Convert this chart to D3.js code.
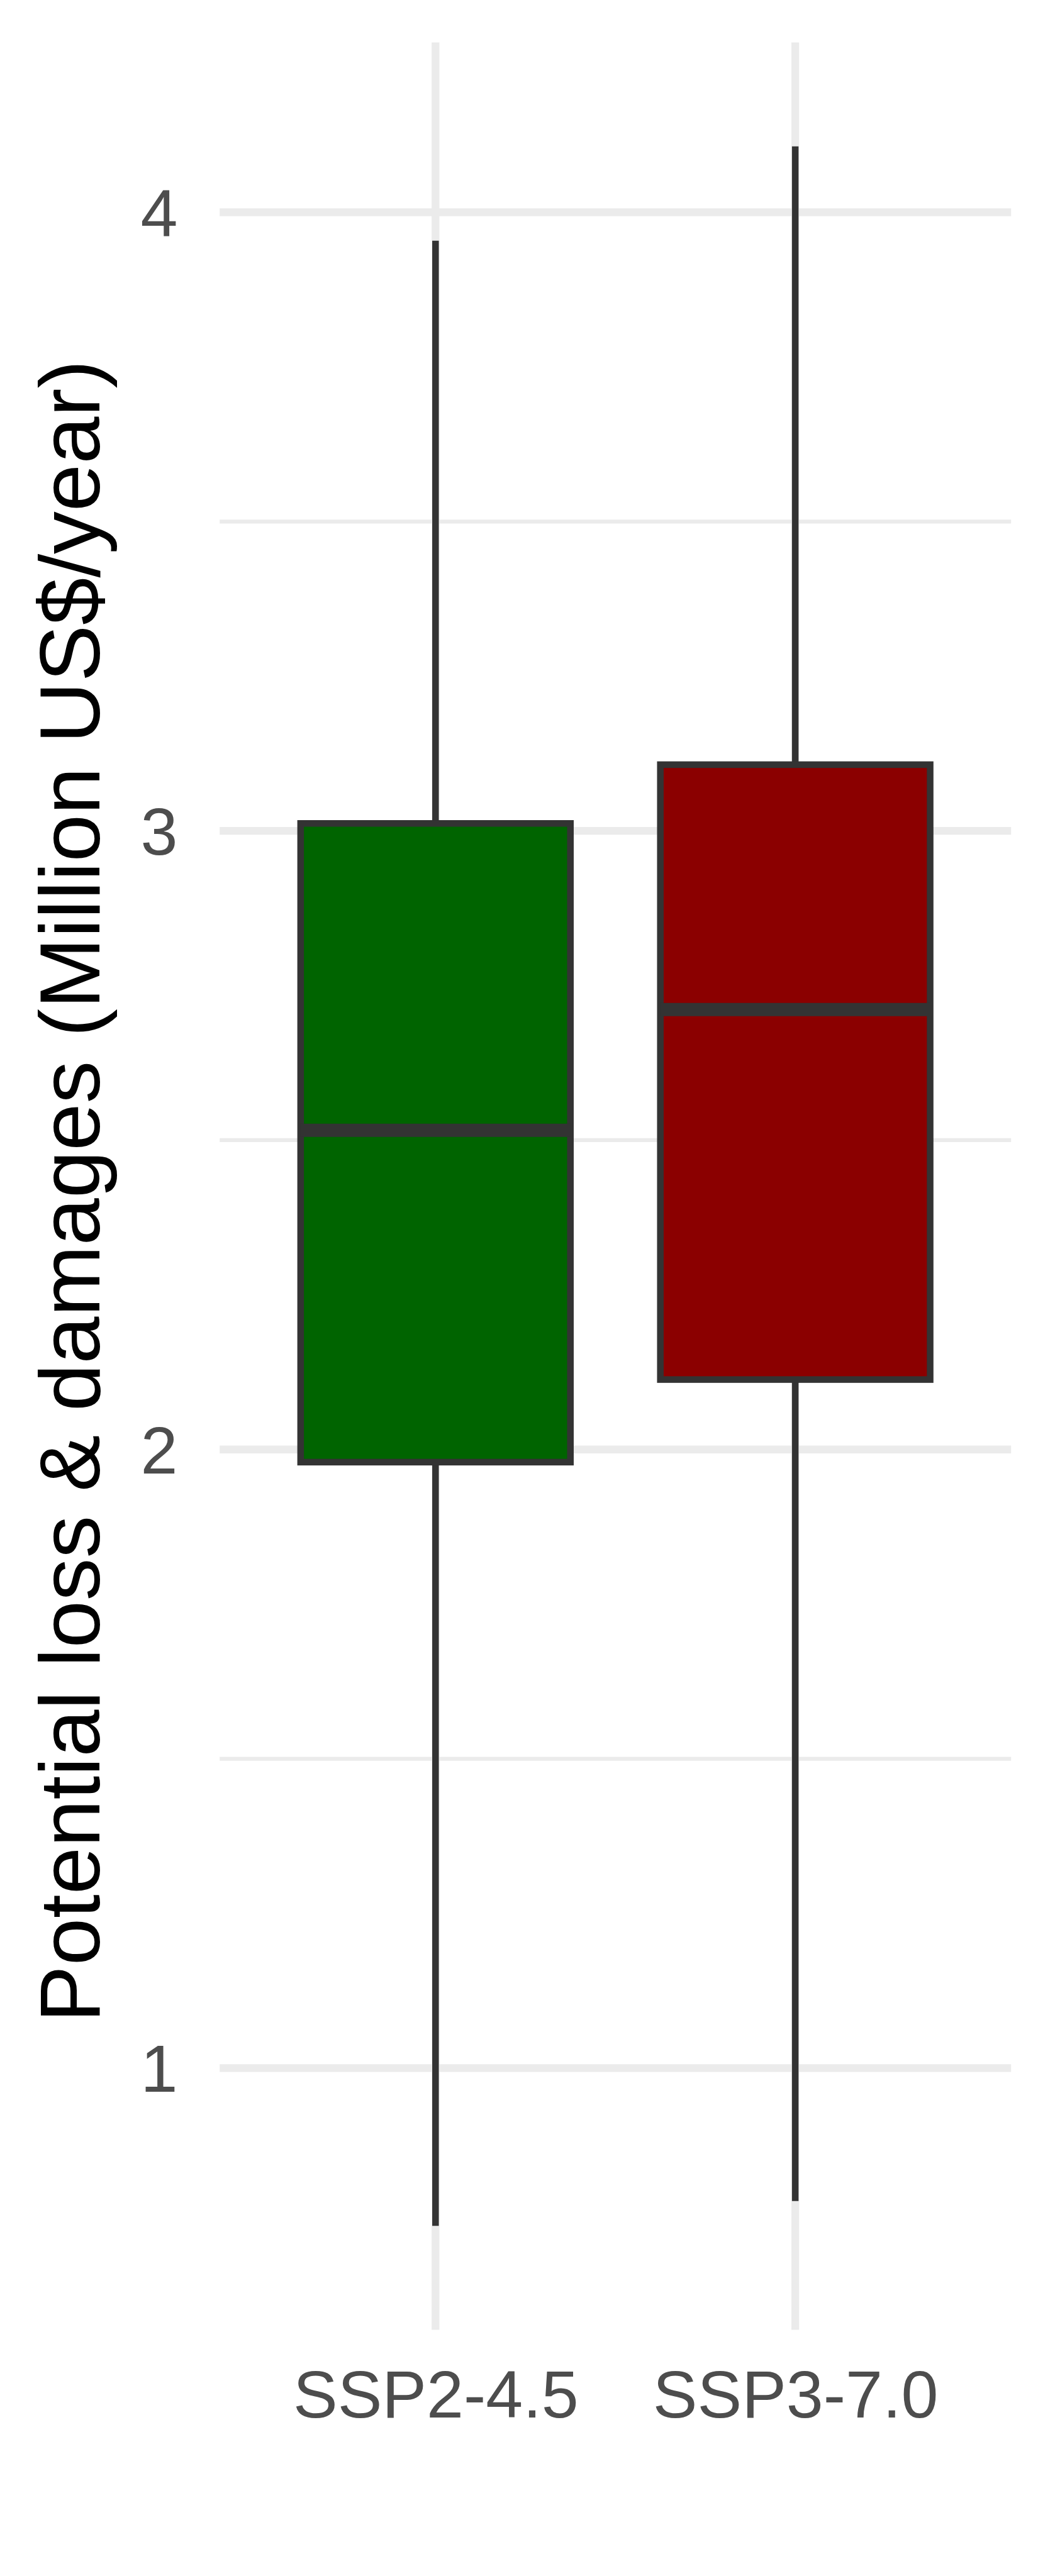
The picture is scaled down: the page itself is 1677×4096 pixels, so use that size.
<!DOCTYPE html>
<html>
<head>
<meta charset="utf-8">
<script src="https://cdn.jsdelivr.net/npm/d3@7"></script>
<style>
  html, body { margin: 0; padding: 0; background: #ffffff; }
  svg { display: block; }
</style>
</head>
<body>
<script>
// ---- data ----
const categories = ["SSP2-4.5", "SSP3-7.0"];
const lowerWhisker = [0.745, 0.785];
const q1 = [1.9795, 2.113];
const median = [2.516, 2.711];
const q3 = [3.012, 3.107];
const upperWhisker = [3.954, 4.1065];
const fills = ["#006400", "#8B0000"];
const yTicks = [1, 2, 3, 4];
const yMinorTicks = [1.5, 2.5, 3.5];
const yTitle = "Potential loss & damages (Million US$/year)";

// ---- layout ----
const W = 1677, H = 4096;
const panel = { left: 349.2, right: 1607.2, top: 67.4, bottom: 3704.5 };

const svg = d3.select("body").append("svg")
  .attr("width", W).attr("height", H)
  .style("font-family", "'Liberation Sans', Arial, Helvetica, sans-serif");

svg.append("rect").attr("width", W).attr("height", H).attr("fill", "#ffffff");

const dmin = d3.min(lowerWhisker), dmax = d3.max(upperWhisker);
const ext = (dmax - dmin) * 0.05;
const y = d3.scaleLinear().domain([dmin - ext, dmax + ext]).range([panel.bottom, panel.top]);
const x = d3.scalePoint().domain(categories).range([panel.left, panel.right]).padding(0.6);
const boxW = x.step() * 0.75;

const g = svg.append("g");

// minor grid
g.selectAll("line.minor").data(yMinorTicks).join("line")
  .attr("x1", panel.left).attr("x2", panel.right)
  .attr("y1", d => y(d)).attr("y2", d => y(d))
  .attr("stroke", "#EBEBEB").attr("stroke-width", 6.2);

// major y grid
g.selectAll("line.majy").data(yTicks).join("line")
  .attr("x1", panel.left).attr("x2", panel.right)
  .attr("y1", d => y(d)).attr("y2", d => y(d))
  .attr("stroke", "#EBEBEB").attr("stroke-width", 12.3);

// major x grid
g.selectAll("line.majx").data(categories).join("line")
  .attr("x1", d => x(d)).attr("x2", d => x(d))
  .attr("y1", panel.top).attr("y2", panel.bottom)
  .attr("stroke", "#EBEBEB").attr("stroke-width", 12.3);

const idx = categories.map((c, i) => i);

// whiskers
g.selectAll("line.wu").data(idx).join("line")
  .attr("x1", i => x(categories[i])).attr("x2", i => x(categories[i]))
  .attr("y1", i => y(upperWhisker[i])).attr("y2", i => y(q3[i]))
  .attr("stroke", "#333333").attr("stroke-width", 10.5);
g.selectAll("line.wl").data(idx).join("line")
  .attr("x1", i => x(categories[i])).attr("x2", i => x(categories[i]))
  .attr("y1", i => y(q1[i])).attr("y2", i => y(lowerWhisker[i]))
  .attr("stroke", "#333333").attr("stroke-width", 10.5);

// boxes
g.selectAll("rect.box").data(idx).join("rect")
  .attr("x", i => x(categories[i]) - boxW / 2)
  .attr("width", boxW)
  .attr("y", i => y(q3[i]))
  .attr("height", i => y(q1[i]) - y(q3[i]))
  .attr("fill", i => fills[i])
  .attr("stroke", "#333333").attr("stroke-width", 10.5);

// medians
g.selectAll("line.med").data(idx).join("line")
  .attr("x1", i => x(categories[i]) - boxW / 2)
  .attr("x2", i => x(categories[i]) + boxW / 2)
  .attr("y1", i => y(median[i])).attr("y2", i => y(median[i]))
  .attr("stroke", "#333333").attr("stroke-width", 21);

// y axis labels
const yAxis = d3.axisLeft(y).tickValues(yTicks).tickSize(0).tickPadding(66.8).tickFormat(d3.format("d"));
const ya = svg.append("g").attr("transform", `translate(${panel.left},0)`).call(yAxis);
ya.select(".domain").remove();
ya.selectAll("text")
  .attr("fill", "#4D4D4D").attr("font-size", 106)
  .attr("font-family", "'Liberation Sans', Arial, Helvetica, sans-serif")
  .attr("dy", "0.355em");

// x axis labels
const xAxis = d3.axisBottom(x).tickSize(0).tickPadding(0);
const xa = svg.append("g").attr("transform", `translate(0,${panel.bottom})`).call(xAxis);
xa.select(".domain").remove();
xa.selectAll("text")
  .attr("fill", "#4D4D4D").attr("font-size", 106)
  .attr("font-family", "'Liberation Sans', Arial, Helvetica, sans-serif")
  .attr("dy", null)
  .attr("y", 3844 - panel.bottom);

// y title
svg.append("text")
  .attr("transform", `translate(158.3,${(panel.top + panel.bottom) / 2 + 8}) rotate(-90)`)
  .attr("text-anchor", "middle")
  .attr("font-size", 135.5)
  .attr("fill", "#000000")
  .text(yTitle);
</script>
</body>
</html>
